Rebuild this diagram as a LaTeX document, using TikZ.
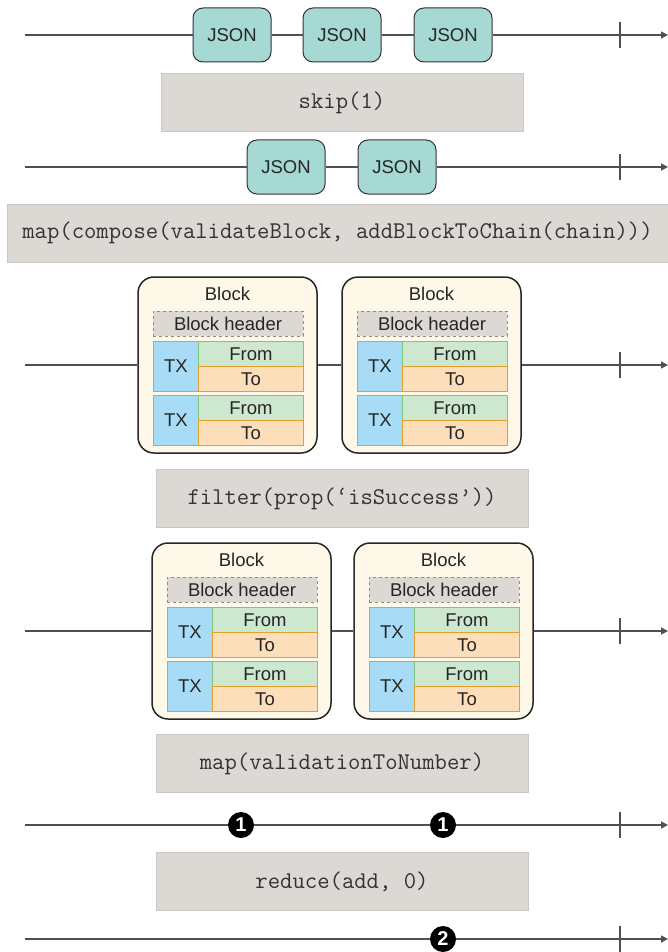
\documentclass[tikz,border=0pt]{standalone}
\usepackage{fontspec}
\setsansfont{Liberation Sans}
\usepackage{xcolor}
\usepackage{tikz}
\usetikzlibrary{arrows.meta}

\definecolor{jsonfill}{HTML}{A6D8D4}
\definecolor{opfill}{HTML}{DCD8D4}
\definecolor{opedge}{HTML}{CBC7C3}
\definecolor{blockfill}{HTML}{FDF8E8}
\definecolor{hdredge}{HTML}{8C8C8C}
\definecolor{txfill}{HTML}{A8DCF6}
\definecolor{fromfill}{HTML}{CDE8CF}
\definecolor{fromedge}{HTML}{80C480}
\definecolor{tofill}{HTML}{FDDEBB}
\definecolor{toedge}{HTML}{E2A02C}
\definecolor{linegray}{HTML}{505050}

\begin{document}
\begin{tikzpicture}[x=1pt, y=-1pt,
  arr/.style={-{Triangle[length=7pt,width=7pt]}, line width=1.5pt, linegray},
  tick/.style={line width=1.2pt, linegray},
  sans/.style={font=\sffamily\fontsize{18.5}{20}\selectfont, text=black!85},
  json/.style={sans, draw=black!80, line width=1pt, fill=jsonfill, rounded corners=10pt,
    minimum width=78pt, minimum height=54pt, inner sep=0pt},
  op/.style={draw=opedge, line width=1pt, fill=opfill, minimum height=58pt, inner sep=0pt,
    text=black!80, font=\ttfamily\fontsize{24}{28}\selectfont},
  block/.style={draw=black!85, line width=1.5pt, fill=blockfill, rounded corners=16pt,
    minimum width=179pt, minimum height=176pt, inner sep=0pt},
  hdr/.style={sans, draw=hdredge, dashed, line width=1pt, fill=opfill,
    minimum width=150pt, minimum height=25pt, inner sep=0pt},
  txcell/.style={sans, anchor=north west, draw=toedge, line width=1pt, fill=txfill,
    minimum width=45pt, minimum height=50pt, inner sep=0pt},
  fromcell/.style={sans, anchor=north west, draw=fromedge, line width=1pt, fill=fromfill,
    minimum width=105pt, minimum height=25pt, inner sep=0pt},
  tocell/.style={sans, anchor=north west, draw=toedge, line width=1pt, fill=tofill,
    minimum width=105pt, minimum height=25pt, inner sep=0pt},
  badge/.style={circle, fill=black, text=white, minimum size=26pt, inner sep=0pt,
    font=\sffamily\bfseries\fontsize{20}{20}\selectfont}]
  \useasboundingbox (0,0) rectangle (668,952);

  % Row 1: incoming JSON stream
  \coordinate (s1) at (25,35);
  \coordinate (e1) at (668,35);
  \coordinate (t1) at (620,35);
  \node[json] (j1) at (232,35) {JSON};
  \node[json] (j2) at (342,35) {JSON};
  \node[json] (j3) at (453,35) {JSON};
  \draw[arr] (s1) -- (j1) -- (j2) -- (j3) -- (e1);
  \draw[tick] ([yshift=13pt]t1) -- ([yshift=-13pt]t1);

  \node[op, minimum width=362pt] (op1) at (342,103) {skip(1)};

  % Row 2: first element dropped
  \coordinate (s2) at (25,167);
  \coordinate (e2) at (668,167);
  \coordinate (t2) at (620,167);
  \node[json] (j4) at (286,167) {JSON};
  \node[json] (j5) at (397,167) {JSON};
  \draw[arr] (s2) -- (j4) -- (j5) -- (e2);
  \draw[tick] ([yshift=13pt]t2) -- ([yshift=-13pt]t2);

  \node[op, minimum width=661pt] (op2) at (337.5,233) {map(compose(validateBlock, addBlockToChain(chain)))};

  % Rows 3 and 4: validated blocks
  \foreach \bx/\by/\id in {138/277/a, 342/277/b, 152/543/c, 354/543/d} {
    \node[block] (\id) at (\bx+89.5,\by+88) {};
    \node[sans] (\id-lbl) at (\bx+89.5,\by+17) {Block};
    \node[hdr] (\id-hdr) at (\bx+90,\by+46.5) {Block header};
    \foreach \r/\dy in {1/64, 2/118} {
      \node[txcell] (\id-tx\r) at (\bx+15,\by+\dy) {TX};
      \node[fromcell] (\id-from\r) at (\bx+60,\by+\dy) {From};
      \node[tocell] (\id-to\r) at (\bx+60,\by+\dy+25) {To};
    }
  }

  \coordinate (s3) at (25,365);
  \coordinate (e3) at (668,365);
  \coordinate (t3) at (620,365);
  \draw[arr] (s3) -- (a) -- (b) -- (e3);
  \draw[tick] ([yshift=13pt]t3) -- ([yshift=-13pt]t3);

  \node[op, minimum width=372pt] (op3) at (342,498.5) {filter(prop(‘isSuccess’))};

  \coordinate (s4) at (25,631);
  \coordinate (e4) at (668,631);
  \coordinate (t4) at (620,631);
  \draw[arr] (s4) -- (c) -- (d) -- (e4);
  \draw[tick] ([yshift=13pt]t4) -- ([yshift=-13pt]t4);

  \node[op, minimum width=372pt] (op4) at (342,763.5) {map(validationToNumber)};

  % Row 5: numbers
  \coordinate (s5) at (25,825);
  \coordinate (e5) at (668,825);
  \coordinate (t5) at (620,825);
  \node[badge] (n1) at (241,825) {1};
  \node[badge] (n2) at (443,825) {1};
  \draw[arr] (s5) -- (n1) -- (n2) -- (e5);
  \draw[tick] ([yshift=13pt]t5) -- ([yshift=-13pt]t5);

  \node[op, minimum width=372pt] (op5) at (342,881.5) {reduce(add, 0)};

  % Row 6: sum
  \coordinate (s6) at (25,939);
  \coordinate (e6) at (668,939);
  \coordinate (t6) at (620,939);
  \node[badge] (n3) at (443,939) {2};
  \draw[arr] (s6) -- (n3) -- (e6);
  \draw[tick] ([yshift=13pt]t6) -- ([yshift=-13pt]t6);
\end{tikzpicture}
\end{document}
